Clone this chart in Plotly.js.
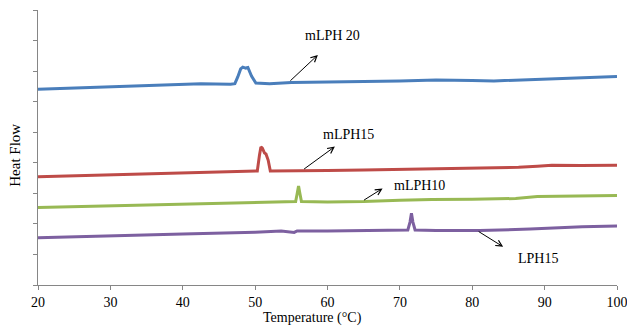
<!DOCTYPE html>
<html>
<head>
<meta charset="utf-8">
<script src="https://cdn.plot.ly/plotly-3.0.1.min.js"></script>
<style>html,body{margin:0;padding:0;background:#fff;}#chart{width:627px;height:327px;}</style>
</head>
<body>
<div id="chart"></div>
<script>
// Temperature (°C) and heat flow (arbitrary units, curves offset)
const tBlue = [20, 28, 36, 38.3, 42.5, 46.6, 47.2, 47.6, 48.0, 48.3, 48.7, 49.0, 49.5, 50.1, 52, 55, 60, 65, 70, 75, 77, 80, 83, 87, 91, 95, 100];
const vBlue = [6.41, 6.48, 6.53, 6.57, 6.59, 6.57, 6.59, 6.81, 7.07, 7.13, 7.10, 7.12, 6.84, 6.61, 6.59, 6.63, 6.64, 6.66, 6.68, 6.71, 6.71, 6.69, 6.68, 6.71, 6.74, 6.77, 6.82];

const tRed = [20, 30, 40, 45, 50, 50.3, 50.6, 50.8, 51.0, 51.3, 51.5, 51.8, 52.1, 55, 60, 65, 70, 77, 82, 86.4, 89, 91, 95, 100];
const vRed = [3.54, 3.60, 3.65, 3.68, 3.71, 3.73, 4.25, 4.52, 4.48, 4.32, 4.29, 4.09, 3.73, 3.73, 3.75, 3.76, 3.78, 3.82, 3.83, 3.85, 3.89, 3.92, 3.91, 3.92];

const tGreen = [20, 30, 40, 50, 53.6, 55.6, 55.8, 56.0, 56.2, 56.4, 60, 65, 70, 74.4, 80, 86, 89, 92, 96, 100];
const vGreen = [2.54, 2.60, 2.65, 2.70, 2.73, 2.73, 2.98, 3.24, 2.98, 2.73, 2.72, 2.73, 2.77, 2.80, 2.81, 2.83, 2.90, 2.91, 2.91, 2.93];

const tPurple = [20, 30, 40, 50, 53.6, 55.4, 55.8, 60, 67.4, 71.1, 71.4, 71.6, 71.8, 72.1, 75, 81, 88, 95.2, 100];
const vPurple = [1.55, 1.60, 1.67, 1.73, 1.77, 1.72, 1.77, 1.77, 1.78, 1.80, 2.06, 2.35, 2.06, 1.80, 1.78, 1.78, 1.83, 1.91, 1.93];

const seriesNames = ["mLPH 20", "mLPH15", "mLPH10", "LPH15"];
const xTickVals = [20, 30, 40, 50, 60, 70, 80, 90, 100];
const xTickText = ["20", "30", "40", "50", "60", "70", "80", "90", "100"];

// label positions / arrow tail & head (data coords)
const labelT = [60.75, 62.96, 72.76, 89.06];
const labelV = [8.15, 4.91, 3.27, 0.88];
const arrowTailT = [54.67, 56.56, 64.85, 80.68];
const arrowTailV = [6.64, 3.76, 2.75, 1.78];
const arrowHeadT = [58.67, 61.02, 67.61, 84.27];
const arrowHeadV = [7.53, 4.53, 3.16, 1.25];

const colors = ["#4A7EBB", "#BE4B48", "#98B954", "#7D60A0"];
const xs = [tBlue, tRed, tGreen, tPurple];
const ys = [vBlue, vRed, vGreen, vPurple];

const traces = xs.map((x, i) => ({
  x: x, y: ys[i], type: "scatter", mode: "lines", name: seriesNames[i],
  line: {color: colors[i], width: 3, shape: "linear"}, showlegend: false, hoverinfo: "skip"
}));

const serif = "Times New Roman";
const annotations = [];
seriesNames.forEach((n, i) => {
  annotations.push({x: labelT[i], y: labelV[i], xref: "x", yref: "y", text: n, showarrow: false,
    font: {family: serif, size: 14, color: "#000"}, xanchor: "center", yanchor: "middle"});
  annotations.push({x: arrowHeadT[i], y: arrowHeadV[i], ax: arrowTailT[i], ay: arrowTailV[i],
    xref: "x", yref: "y", axref: "x", ayref: "y", text: "", showarrow: true,
    arrowhead: 5, arrowsize: 1.2, arrowwidth: 1, arrowcolor: "#000", standoff: 0, startstandoff: 0});
});
annotations.push({x: 0.474, y: -0.12, xref: "paper", yref: "paper", text: "Temperature (°C)", showarrow: false,
  font: {family: serif, size: 14, color: "#000"}, xanchor: "center", yanchor: "middle"});
annotations.push({x: -0.04, y: 0.473, xref: "paper", yref: "paper", text: "Heat Flow", showarrow: false, textangle: -90,
  font: {family: serif, size: 15, color: "#000"}, xanchor: "center", yanchor: "middle"});

const layout = {
  width: 627, height: 327,
  margin: {l: 38, r: 10, t: 10, b: 42},
  paper_bgcolor: "#fff", plot_bgcolor: "#fff",
  xaxis: {range: [20, 100], tickvals: xTickVals, ticktext: xTickText, showgrid: false, zeroline: false,
    showline: true, linecolor: "#868686", linewidth: 1, ticks: "outside", ticklen: 4, tickcolor: "#868686",
    ticklabeloverflow: "allow", tickfont: {family: serif, size: 14, color: "#000"}},
  yaxis: {range: [0, 9], dtick: 1, tick0: 0, showticklabels: false, showgrid: false, zeroline: false,
    showline: true, linecolor: "#868686", linewidth: 1, ticks: "outside", ticklen: 4, tickcolor: "#868686"},
  annotations: annotations
};

Plotly.newPlot("chart", traces, layout, {staticPlot: true, displayModeBar: false});
</script>
</body>
</html>
